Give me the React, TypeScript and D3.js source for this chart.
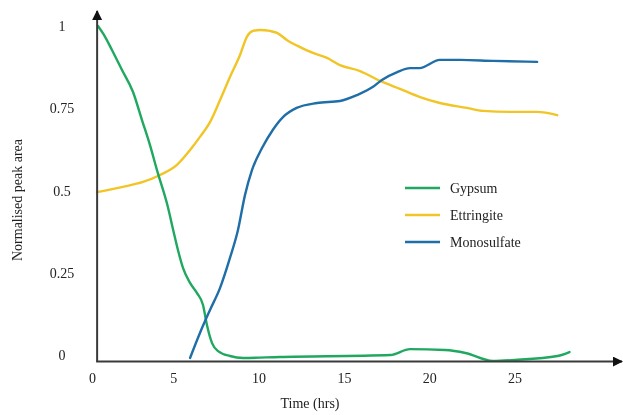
import React, { useEffect, useRef } from "react";
import * as d3 from "d3";

// time (hrs) and normalised peak area
const gypsumT = [0.55, 0.9, 1.37, 1.96, 2.6, 3.13, 3.6, 4.01, 4.65, 4.96, 5.24, 5.54, 5.95, 6.36, 6.71, 6.94, 7.24, 7.59, 8.29, 9.06, 11.2, 17.7, 18.85, 20.9, 22.1, 23.7, 25.0, 27.5, 28.2];
const gypsumV = [1.0, 0.973, 0.927, 0.866, 0.8, 0.714, 0.638, 0.562, 0.45, 0.38, 0.319, 0.264, 0.219, 0.188, 0.152, 0.091, 0.036, 0.012, -0.003, -0.009, -0.006, 0.0, 0.018, 0.015, 0.006, -0.018, -0.015, -0.003, 0.009];

const ettringiteT = [0.49, 2.02, 3.19, 4.19, 5.18, 5.95, 6.53, 7.12, 7.71, 8.29, 8.88, 9.29, 9.64, 10.05, 10.64, 11.05, 11.64, 12.4, 13.16, 13.98, 14.74, 15.92, 17.1, 18.26, 19.44, 20.6, 22.2, 23.13, 24.7, 26.3, 27.48];
const ettringiteV = [0.495, 0.511, 0.526, 0.547, 0.578, 0.623, 0.663, 0.708, 0.775, 0.845, 0.912, 0.968, 0.985, 0.988, 0.985, 0.979, 0.957, 0.936, 0.918, 0.903, 0.881, 0.863, 0.833, 0.809, 0.784, 0.766, 0.751, 0.742, 0.739, 0.739, 0.729];

const monoT = [5.95, 6.53, 7.12, 7.71, 8.29, 8.76, 9.17, 9.58, 10.17, 10.8, 11.4, 12.2, 13.4, 14.74, 15.74, 16.68, 17.2, 18.1, 18.85, 19.4, 20.6, 21.8, 23.7, 26.3];
const monoV = [-0.009, 0.067, 0.137, 0.204, 0.295, 0.38, 0.486, 0.562, 0.629, 0.684, 0.723, 0.751, 0.766, 0.772, 0.79, 0.815, 0.836, 0.86, 0.872, 0.872, 0.897, 0.897, 0.894, 0.891];

const xTicks = [0, 5, 10, 15, 20, 25];
const yTicks = [0, 0.25, 0.5, 0.75, 1];
const yTickLabels = ["0", "0.25", "0.5", "0.75", "1"];

const seriesNames = ["Gypsum", "Ettringite", "Monosulfate"];
const seriesColors = ["#20a860", "#f1c526", "#1f6ea8"];

function App() {
  const ref = useRef(null);

  useEffect(() => {
    const width = 623;
    const height = 415;
    const font = "Liberation Serif, DejaVu Serif, serif";

    d3.select(ref.current).select("svg").remove();

    const svg = d3
      .select(ref.current)
      .append("svg")
      .attr("width", width)
      .attr("height", height)
      .style("display", "block")
      .style("font-family", font);

    const x = d3.scaleLinear().domain([0, 25]).range([88.6, 514.9]);
    const y = d3.scaleLinear().domain([0, 1]).range([355, 26]);

    const axisX = x(0.5);
    const axisY = y(-0.02);
    const axisColor = "#3a3a3a";

    // arrow marker
    svg
      .append("defs")
      .append("marker")
      .attr("id", "arrow")
      .attr("viewBox", "0 0 10 10")
      .attr("refX", 9)
      .attr("refY", 5)
      .attr("markerWidth", 5)
      .attr("markerHeight", 5)
      .attr("orient", "auto")
      .append("path")
      .attr("d", "M0,0 L10,5 L0,10 z")
      .attr("fill", "#111");

    const seriesData = [
      gypsumT.map((t, i) => [t, gypsumV[i]]),
      ettringiteT.map((t, i) => [t, ettringiteV[i]]),
      monoT.map((t, i) => [t, monoV[i]]),
    ];

    const line = d3
      .line()
      .x((d) => x(d[0]))
      .y((d) => y(d[1]))
      .curve(d3.curveMonotoneX);

    // draw order: ettringite, gypsum, monosulfate
    [1, 0, 2].forEach((i) => {
      svg
        .append("path")
        .attr("d", line(seriesData[i]))
        .attr("fill", "none")
        .attr("stroke", seriesColors[i])
        .attr("stroke-width", 2.4)
        .attr("stroke-linejoin", "round")
        .attr("stroke-linecap", "round");
    });

    // axes
    svg
      .append("line")
      .attr("x1", axisX)
      .attr("y1", axisY)
      .attr("x2", axisX)
      .attr("y2", 11)
      .attr("stroke", axisColor)
      .attr("stroke-width", 2)
      .attr("marker-end", "url(#arrow)");

    svg
      .append("line")
      .attr("x1", axisX - 1)
      .attr("y1", axisY)
      .attr("x2", 622)
      .attr("y2", axisY)
      .attr("stroke", axisColor)
      .attr("stroke-width", 2)
      .attr("marker-end", "url(#arrow)");

    // tick labels
    svg
      .selectAll(".xt")
      .data(xTicks)
      .enter()
      .append("text")
      .attr("x", (d) => (d === 0 ? x(d) + 4 : x(d)))
      .attr("y", 383)
      .attr("text-anchor", "middle")
      .attr("font-size", 14)
      .attr("fill", "#222")
      .text((d) => String(d));

    svg
      .selectAll(".yt")
      .data(yTicks)
      .enter()
      .append("text")
      .attr("x", 62)
      .attr("y", (d) => y(d) + 5)
      .attr("text-anchor", "middle")
      .attr("font-size", 14)
      .attr("fill", "#222")
      .text((d, i) => yTickLabels[i]);

    // axis titles
    svg
      .append("text")
      .attr("x", 310)
      .attr("y", 408)
      .attr("text-anchor", "middle")
      .attr("font-size", 14)
      .attr("fill", "#222")
      .text("Time (hrs)");

    svg
      .append("text")
      .attr("transform", "translate(22,200) rotate(-90)")
      .attr("text-anchor", "middle")
      .attr("font-size", 14)
      .attr("fill", "#222")
      .text("Normalised peak area");

    // legend
    const legend = svg
      .selectAll(".lg")
      .data(seriesNames)
      .enter()
      .append("g")
      .attr("transform", (d, i) => `translate(405, ${188 + i * 27})`);

    legend
      .append("line")
      .attr("x1", 0)
      .attr("x2", 35)
      .attr("y1", 0)
      .attr("y2", 0)
      .attr("stroke", (d, i) => seriesColors[i])
      .attr("stroke-width", 2.4);

    legend
      .append("text")
      .attr("x", 45)
      .attr("y", 5)
      .attr("font-size", 14)
      .attr("fill", "#222")
      .text((d) => d);
  }, []);

  return (
    <div
      ref={ref}
      style={{ position: "fixed", left: 0, top: 0, width: 623, height: 415 }}
    ></div>
  );
}

export default App;
